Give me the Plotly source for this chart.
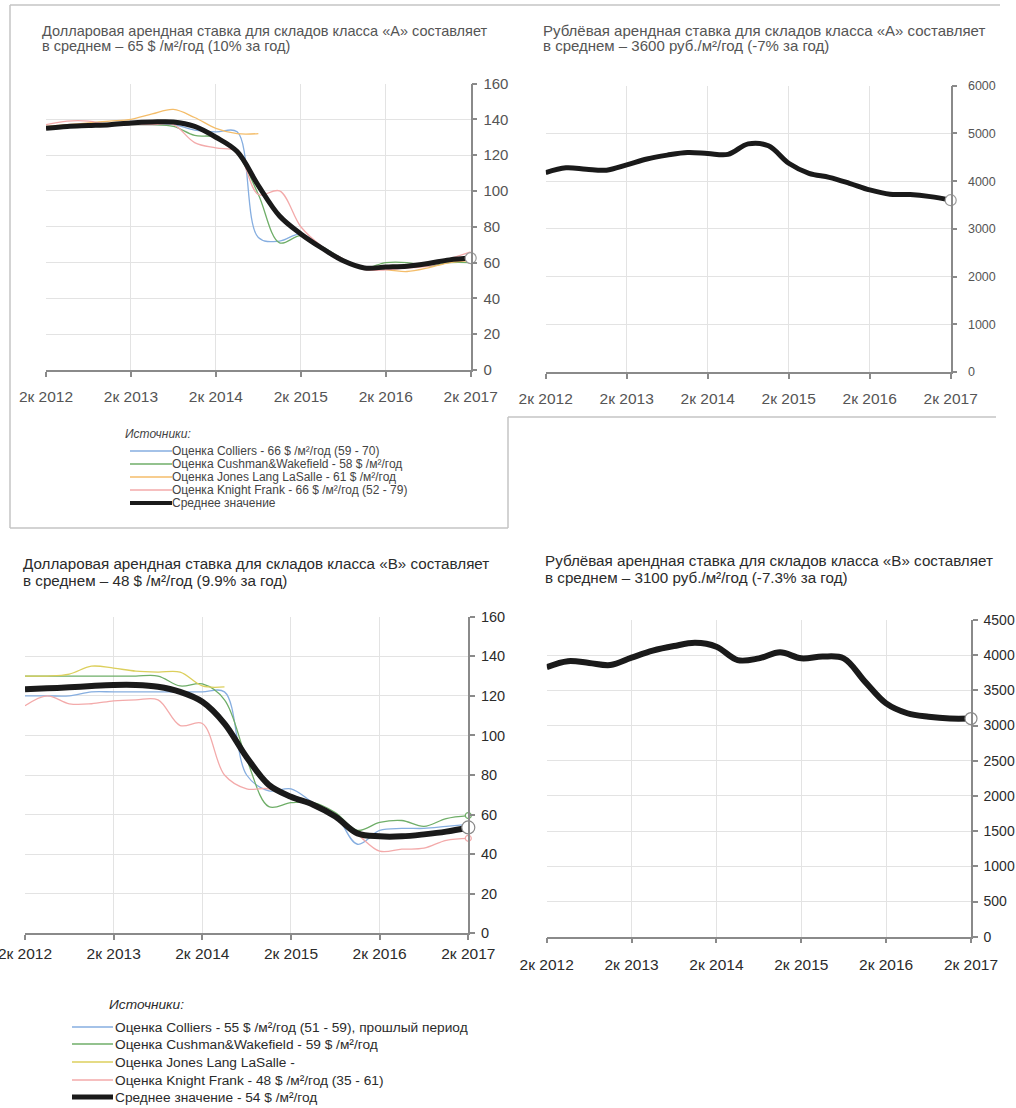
import plotly.graph_objects as go

W, H = 1016, 1108

# Quarterly periods: 2к 2012 ... 2к 2017
quarters = list(range(21))
tick_pos = [0, 4, 8, 12, 16, 20]
tick_text = ["2к 2012", "2к 2013", "2к 2014", "2к 2015", "2к 2016", "2к 2017"]

# Class A warehouses, $/m²/year
a_colliers = [135, 136, 136, 137, 137, 137, 137, 134, 133, 133, 74, 72, 76, 69, 62, 57, 57, 58, 59, 61, 63]
a_cushman = [135, 136, 136, 137, 137, 137, 136, 131, 130, 121, 98, 71, 75, 69, 62, 57, 60, 60, 58, 60, 60]
a_jll = [136, 137, 138, 139, 140, 143, 145.5, 141, 135, 132, 132, None, None, None, None, None, 56, 55, 57, 60, 61]
a_knight = [137, 139, 139, 137, 137, 137, 137, 127, 124, 122, 98, 100, 80, 69, 62, 56, 56, 57, 58, 62, 66]
a_mean = [135, 136, 136.5, 137, 138, 138.5, 138.5, 136, 130, 122, 103, 86, 76, 68, 61, 57, 57.5, 58, 59.5, 61.5, 62.5]

# Class A warehouses, rub/m²/year
a_rub = [4180, 4280, 4250, 4230, 4340, 4465, 4545, 4600, 4580, 4560, 4780, 4740, 4375, 4165, 4080, 3955, 3815, 3725, 3720, 3675, 3600]

# Class B warehouses, $/m²/year
b_colliers = [120, 120, 120, 122, 122, 122, 122, 122, 122, 122, 80, 72, 73, 66, 60, 45, 52, 53, 53, 54, 55]
b_cushman = [130, 130, 130, 130, 130, 130, 130, 125, 126, 118, 88, 64, 66, 66, 61, 52, 56, 57, 54, 58, 59.5]
b_jll = [130, 130, 131, 135, 134, 132.5, 132, 132, 125, 124.5, None, None, None, None, None, None, None, None, None, None, None]
b_knight = [115, 120, 116, 116, 117.5, 118, 118, 105, 106, 80, 73, 73, 68, 65, 58, 50, 41.5, 42.5, 43, 47, 48]
b_mean = [123.3, 123.8, 124.3, 125, 125.5, 125.5, 124.6, 122, 117, 106, 89, 75, 69, 65, 59, 50.5, 49, 49, 50, 51.4, 53.5]

# Class B warehouses, rub/m²/year
b_rub = [3830, 3915, 3890, 3860, 3965, 4065, 4130, 4175, 4120, 3930, 3955, 4040, 3955, 3980, 3955, 3625, 3315, 3175, 3125, 3100, 3100]

titles = [
    ("Долларовая арендная ставка для складов класса «А» составляет",
     "в среднем – 65 $ /м²/год (10% за год)"),
    ("Рублёвая арендная ставка для складов класса «А» составляет",
     "в среднем – 3600 руб./м²/год (-7% за год)"),
    ("Долларовая арендная ставка для складов класса «В» составляет",
     "в среднем – 48 $ /м²/год (9.9% за год)"),
    ("Рублёвая арендная ставка для складов класса «В» составляет",
     "в среднем – 3100 руб./м²/год (-7.3% за год)"),
]

legend_a = [
    "Оценка Colliers - 66 $ /м²/год (59 - 70)",
    "Оценка Cushman&Wakefield - 58 $ /м²/год",
    "Оценка Jones Lang LaSalle - 61 $ /м²/год",
    "Оценка Knight Frank - 66 $ /м²/год (52 - 79)",
    "Среднее значение",
]
legend_b = [
    "Оценка Colliers - 55 $ /м²/год (51 - 59), прошлый период",
    "Оценка Cushman&Wakefield - 59 $ /м²/год",
    "Оценка Jones Lang LaSalle -",
    "Оценка Knight Frank - 48 $ /м²/год (35 - 61)",
    "Среднее значение - 54 $ /м²/год",
]

C_BLUE = "#86aee0"
C_GREEN = "#6fae68"
C_ORANGE = "#f4bd6a"
C_YELLOW = "#dccf5c"
C_PINK = "#f3aaaa"
C_BLACK = "#1a1a1a"
GRID = "#e3e3e3"
AXIS = "#8a8a8a"
FONT = "Liberation Sans, Arial, sans-serif"


def fx(px):
    return px / W


def fy(py):
    return 1 - py / H


fig = go.Figure()


def add_line(y, color, width, xa, ya, end_marker=None):
    fig.add_trace(go.Scatter(
        x=quarters, y=y, mode="lines",
        line=dict(color=color, width=width, shape="spline", smoothing=1.0),
        xaxis=xa, yaxis=ya, showlegend=False, hoverinfo="skip",
        connectgaps=False, cliponaxis=False,
    ))
    if end_marker:
        size, border = end_marker
        fig.add_trace(go.Scatter(
            x=[quarters[-1]], y=[y[-1]], mode="markers",
            marker=dict(size=size, color="white", line=dict(color=border, width=1.2)),
            xaxis=xa, yaxis=ya, showlegend=False, hoverinfo="skip", cliponaxis=False,
        ))


# Panel 1: class A, USD
for s, c in [(a_colliers, C_BLUE), (a_cushman, C_GREEN), (a_jll, C_ORANGE), (a_knight, C_PINK)]:
    add_line(s, c, 1.3, "x", "y")
add_line(a_mean, C_BLACK, 5, "x", "y", end_marker=(11, "#9a9a9a"))

# Panel 2: class A, RUB
add_line(a_rub, C_BLACK, 5, "x2", "y2", end_marker=(11, "#9a9a9a"))

# Panel 3: class B, USD
add_line(b_colliers, C_BLUE, 1.3, "x3", "y3")
add_line(b_cushman, C_GREEN, 1.3, "x3", "y3", end_marker=(6, C_GREEN))
add_line(b_jll, C_YELLOW, 1.3, "x3", "y3")
add_line(b_knight, C_PINK, 1.3, "x3", "y3", end_marker=(6, C_PINK))
add_line(b_mean, C_BLACK, 6, "x3", "y3", end_marker=(13, "#8a8a8a"))

# Panel 4: class B, RUB
add_line(b_rub, C_BLACK, 6, "x4", "y4", end_marker=(12, "#8a8a8a"))


def xaxis(x0, x1, yname, size, color, standoff):
    return dict(
        domain=[fx(x0), fx(x1)], range=[0, 20], anchor=yname, automargin=False,
        tickvals=tick_pos, ticktext=tick_text, ticklabeloverflow="allow",
        showgrid=True, gridcolor=GRID, gridwidth=1, zeroline=False,
        showline=True, linecolor=AXIS, linewidth=1.5,
        ticks="outside", ticklen=5, tickcolor=AXIS, tickwidth=1.5,
        ticklabelstandoff=standoff,
        tickfont=dict(family=FONT, size=size, color=color),
        fixedrange=True,
    )


def yaxis(y0, y1, xname, top, step, size, color, standoff):
    return dict(
        domain=[fy(y0), fy(y1)], range=[0, top], anchor=xname, side="right", automargin=False,
        dtick=step, tick0=0, ticklabeloverflow="allow",
        showgrid=True, gridcolor=GRID, gridwidth=1, zeroline=False,
        showline=True, linecolor=AXIS, linewidth=1.5,
        ticks="outside", ticklen=5, tickcolor=AXIS, tickwidth=1.5,
        ticklabelstandoff=standoff,
        tickfont=dict(family=FONT, size=size, color=color),
        fixedrange=True,
    )


TOP_TXT = "#555555"
BOT_TXT = "#2b2b2b"

fig.update_layout(
    width=W, height=H,
    margin=dict(l=0, r=0, t=0, b=0, autoexpand=False),
    paper_bgcolor="white", plot_bgcolor="white",
    showlegend=False,
    xaxis=xaxis(46, 470.7, "y", 15.5, TOP_TXT, 7),
    yaxis=yaxis(370, 83.5, "x", 160, 20, 15, TOP_TXT, 3),
    xaxis2=xaxis(545.7, 950.7, "y2", 15.5, TOP_TXT, 7),
    yaxis2=yaxis(372, 85.7, "x2", 6000, 1000, 12.5, TOP_TXT, 8),
    xaxis3=xaxis(25, 468.3, "y3", 15.5, BOT_TXT, 0),
    yaxis3=yaxis(933.3, 616.7, "x3", 160, 20, 14.5, BOT_TXT, 3),
    xaxis4=xaxis(546.7, 971, "y4", 15.5, BOT_TXT, 8),
    yaxis4=yaxis(936.7, 620, "x4", 4500, 500, 14, BOT_TXT, 3),
)

annotations = []
shapes = []

# Panel titles, one annotation per line
for (tx, y1, y2, col, size), (line1, line2) in zip(
    [(40, 31, 46, TOP_TXT, 14.5), (541, 31, 45, TOP_TXT, 15),
     (21, 563, 580, BOT_TXT, 15.2), (543, 560, 577, BOT_TXT, 15.2)], titles
):
    for ty, txt in ((y1, line1), (y2, line2)):
        annotations.append(dict(
            x=fx(tx), y=fy(ty), xref="paper", yref="paper", xanchor="left", yanchor="middle",
            text=txt, showarrow=False, align="left",
            font=dict(family=FONT, size=size, color=col),
        ))


def add_legend(header_x, header_y, line_x0, line_x1, text_x, rows, labels, colors, size, color):
    annotations.append(dict(
        x=fx(header_x), y=fy(header_y), xref="paper", yref="paper",
        xanchor="left", yanchor="middle", showarrow=False,
        text="<i>Источники:</i>", font=dict(family=FONT, size=size, color=color),
    ))
    for ry, lab, (lc, lw) in zip(rows, labels, colors):
        shapes.append(dict(
            type="line", xref="paper", yref="paper",
            x0=fx(line_x0), x1=fx(line_x1), y0=fy(ry), y1=fy(ry),
            line=dict(color=lc, width=lw),
        ))
        annotations.append(dict(
            x=fx(text_x), y=fy(ry), xref="paper", yref="paper",
            xanchor="left", yanchor="middle", showarrow=False,
            text=lab, font=dict(family=FONT, size=size, color=color),
        ))


add_legend(123, 434, 130, 172, 170, [451, 464, 477, 490, 503], legend_a,
           [(C_BLUE, 1.3), (C_GREEN, 1.3), (C_ORANGE, 1.3), (C_PINK, 1.3), (C_BLACK, 4)], 12, "#444444")
add_legend(107, 1004, 72, 113, 113, [1027, 1044, 1062, 1080, 1097], legend_b,
           [(C_BLUE, 1.3), (C_GREEN, 1.3), (C_YELLOW, 1.3), (C_PINK, 1.3), (C_BLACK, 5)], 13.7, BOT_TXT)

# Frame lines around the upper panels
FRAME = "#c4c4c4"
for x0, y0, x1, y1 in [
    (10, 5, 1000, 5),
    (10, 5, 10, 528),
    (10, 528, 508, 528),
    (508, 417, 996, 417),
    (508, 417, 508, 528),
]:
    shapes.append(dict(
        type="line", xref="paper", yref="paper",
        x0=fx(x0), x1=fx(x1), y0=fy(y0), y1=fy(y1),
        line=dict(color=FRAME, width=1.5),
    ))

fig.update_layout(annotations=annotations, shapes=shapes)

fig.write_html("out.html", config={"displayModeBar": False})
